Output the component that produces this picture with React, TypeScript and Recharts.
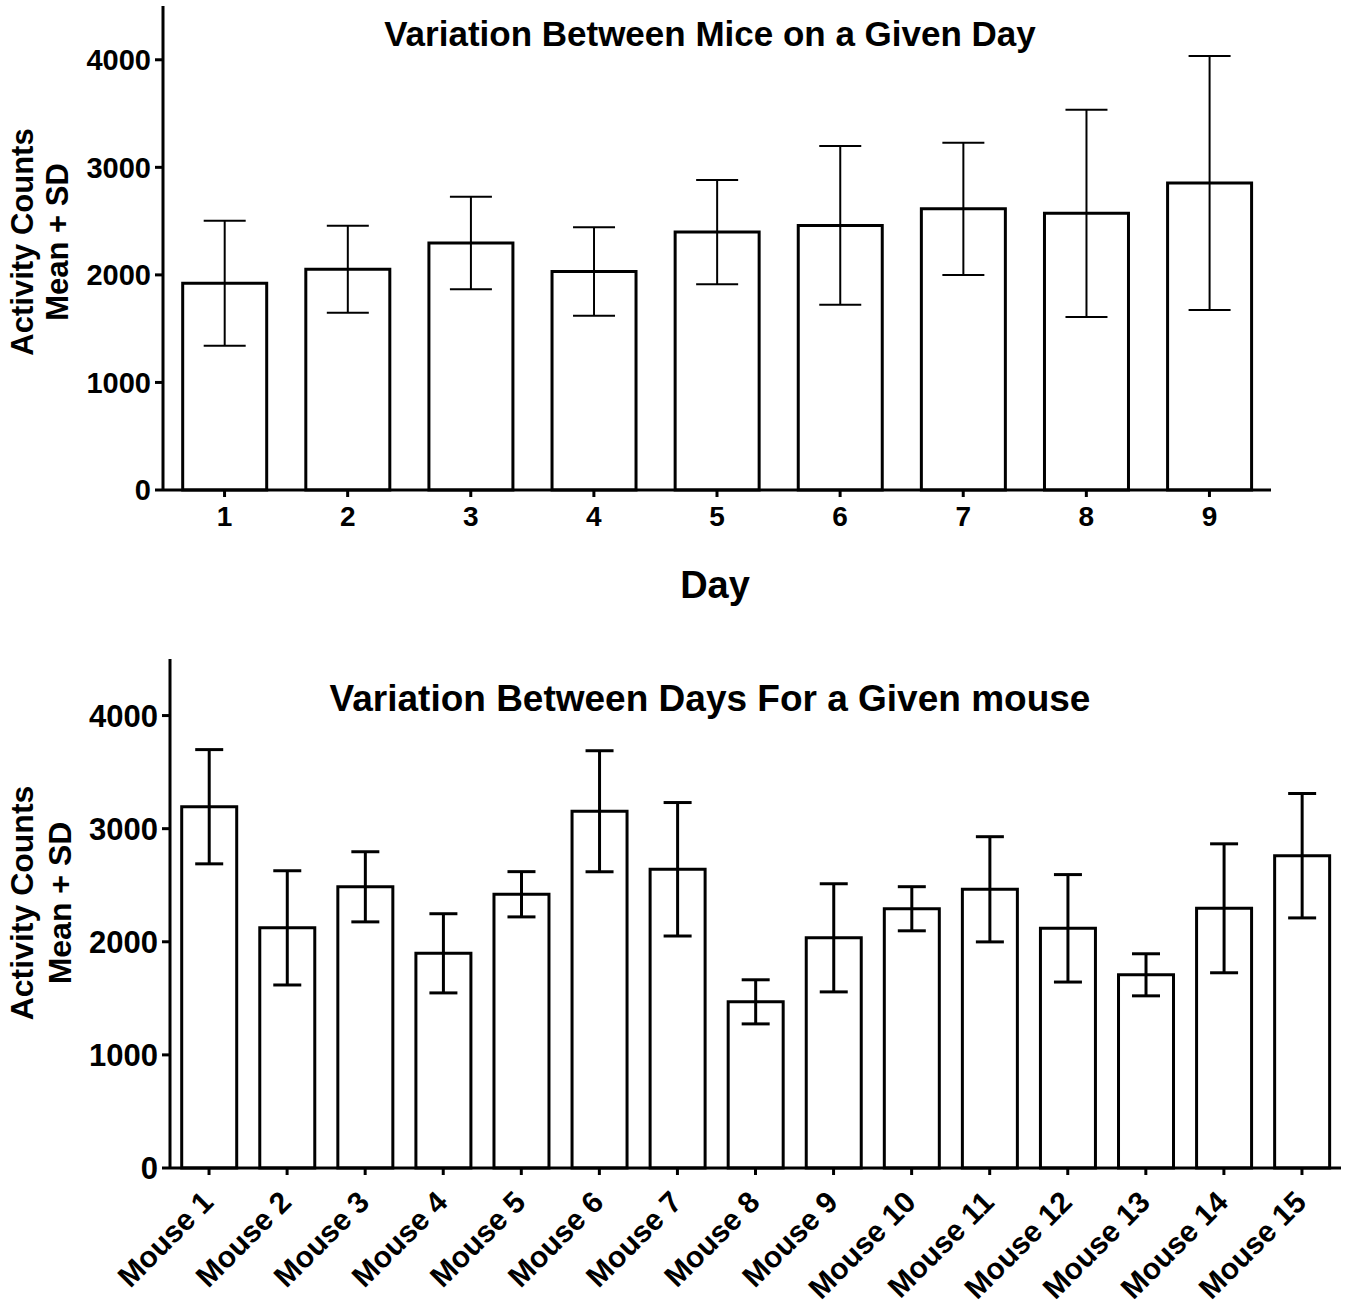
import React from "react";
import { BarChart, Bar, XAxis, YAxis, ErrorBar, Label } from "recharts";

const FONT = "'Liberation Sans', Arial, sans-serif";

// top panel: per-day means and SD
const days = ["1", "2", "3", "4", "5", "6", "7", "8", "9"];
const dayMeans = [1922, 2052, 2297, 2031, 2398, 2460, 2614, 2572, 2855];
const daySD = [581, 405, 430, 412, 484, 738, 614, 963, 1181];

// bottom panel: per-mouse means and SD
const mice = [
  "Mouse 1", "Mouse 2", "Mouse 3", "Mouse 4", "Mouse 5",
  "Mouse 6", "Mouse 7", "Mouse 8", "Mouse 9", "Mouse 10",
  "Mouse 11", "Mouse 12", "Mouse 13", "Mouse 14", "Mouse 15",
];
const mouseMeans = [3194, 2123, 2486, 1898, 2420, 3154, 2641, 1469, 2035, 2292, 2464, 2119, 1708, 2296, 2761];
const mouseSD = [505, 505, 310, 350, 200, 535, 590, 195, 478, 195, 465, 475, 186, 570, 550];

const yTicks = [0, 1000, 2000, 3000, 4000];

const dayData = days.map((d, i) => ({ name: d, mean: dayMeans[i], sd: daySD[i] }));
const mouseData = mice.map((m, i) => ({ name: m, mean: mouseMeans[i], sd: mouseSD[i] }));

const YTitle = ({ cx, cy, size, gap }: { cx: number; cy: number; size: number; gap: number }) => (
  <text
    x={cx}
    y={cy}
    transform={`rotate(-90, ${cx}, ${cy})`}
    textAnchor="middle"
    fontFamily={FONT}
    fontWeight="bold"
    fontSize={size}
    fill="#000"
  >
    <tspan x={cx} dy={0}>Activity Counts</tspan>
    <tspan x={cx} dy={gap}>Mean + SD</tspan>
  </text>
);

const MouseTick = ({ x, y, payload }: any) => {
  const ax = x + 6;
  const ay = y + 27;
  return (
    <text
      x={ax}
      y={ay}
      transform={`rotate(-45, ${ax}, ${ay})`}
      textAnchor="end"
      fontFamily={FONT}
      fontWeight="bold"
      fontSize={30}
      fill="#000"
    >
      {payload.value}
    </text>
  );
};

const titleStyle: React.CSSProperties = {
  position: "absolute",
  left: 710,
  transform: "translateX(-50%)",
  whiteSpace: "nowrap",
  fontFamily: FONT,
  fontWeight: "bold",
  color: "#000",
  lineHeight: 1,
};

export default function App() {
  const axisStroke = { stroke: "#000", strokeWidth: 3 };
  return (
    <div style={{ position: "absolute", left: 0, top: 0, width: 1350, height: 1311, background: "#fff" }}>
      <div style={{ position: "absolute", left: 0, top: 0 }}>
        <BarChart
          width={1350}
          height={620}
          data={dayData}
          margin={{ top: 6, right: 79, bottom: 0, left: 0 }}
          barCategoryGap="16%"
        >
          <XAxis
            dataKey="name"
            interval={0}
            height={130}
            axisLine={axisStroke}
            tickLine={axisStroke}
            tickSize={7}
            tickMargin={9}
            tick={{ fontFamily: FONT, fontWeight: "bold", fontSize: 28, fill: "#000" }}
          >
            <Label
              content={() => (
                <text x={715} y={598} textAnchor="middle" fontFamily={FONT} fontWeight="bold" fontSize={38} fill="#000">
                  Day
                </text>
              )}
            />
          </XAxis>
          <YAxis
            width={163}
            domain={[0, 4500]}
            ticks={yTicks}
            interval={0}
            axisLine={axisStroke}
            tickLine={axisStroke}
            tickSize={8}
            tickMargin={4}
            tick={{ fontFamily: FONT, fontWeight: "bold", fontSize: 29, fill: "#000" }}
          >
            <Label content={() => <YTitle cx={33} cy={242} size={31} gap={35} />} />
          </YAxis>
          <Bar dataKey="mean" fill="#fff" stroke="#000" strokeWidth={3} isAnimationActive={false}>
            <ErrorBar dataKey="sd" width={21} stroke="#000" strokeWidth={2} isAnimationActive={false} />
          </Bar>
        </BarChart>
      </div>
      <div style={{ ...titleStyle, top: 16, fontSize: 35 }}>Variation Between Mice on a Given Day</div>

      <div style={{ position: "absolute", left: 0, top: 640 }}>
        <BarChart
          width={1350}
          height={671}
          data={mouseData}
          margin={{ top: 19, right: 9, bottom: 0, left: 0 }}
          barCategoryGap="15%"
        >
          <XAxis
            dataKey="name"
            interval={0}
            height={143}
            axisLine={axisStroke}
            tickLine={axisStroke}
            tickSize={7}
            tick={<MouseTick />}
          />
          <YAxis
            width={170}
            domain={[0, 4500]}
            ticks={yTicks}
            interval={0}
            axisLine={axisStroke}
            tickLine={axisStroke}
            tickSize={8}
            tickMargin={4}
            tick={{ fontFamily: FONT, fontWeight: "bold", fontSize: 31, fill: "#000" }}
          >
            <Label content={() => <YTitle cx={33} cy={263} size={32} gap={38} />} />
          </YAxis>
          <Bar dataKey="mean" fill="#fff" stroke="#000" strokeWidth={3} isAnimationActive={false}>
            <ErrorBar dataKey="sd" width={14} stroke="#000" strokeWidth={3} isAnimationActive={false} />
          </Bar>
        </BarChart>
      </div>
      <div style={{ ...titleStyle, top: 680, fontSize: 37 }}>Variation Between Days For a Given mouse</div>
    </div>
  );
}
